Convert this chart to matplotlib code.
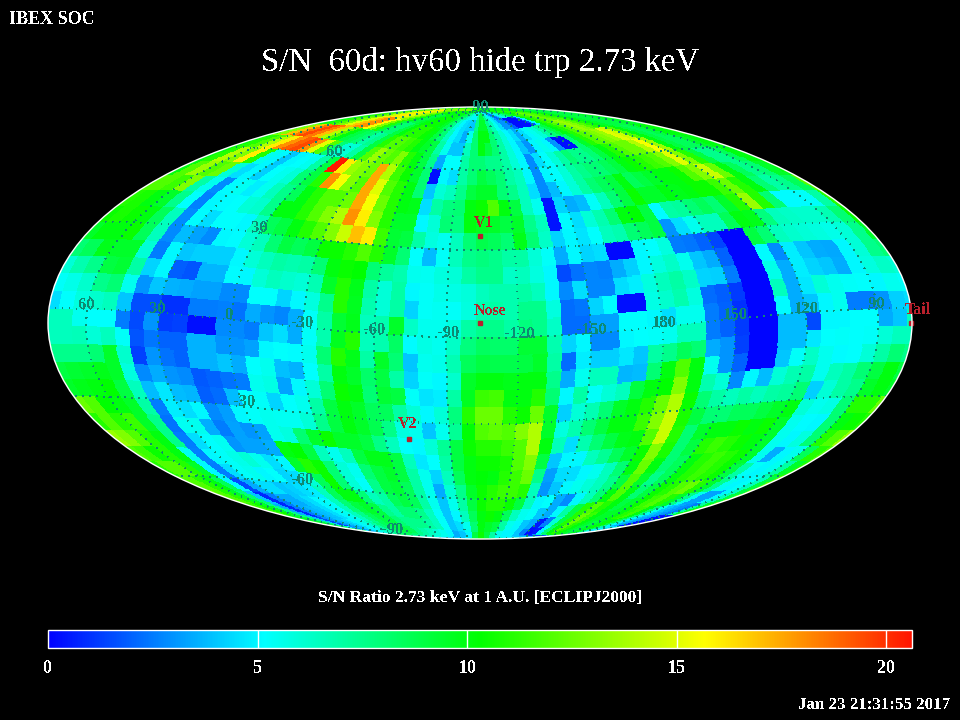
import numpy as np
import matplotlib
matplotlib.use('Agg')
import matplotlib.pyplot as plt
from matplotlib.colors import LinearSegmentedColormap

plt.rcParams['font.family'] = ['Liberation Serif', 'DejaVu Serif']
plt.rcParams['text.antialiased'] = False

# S/N per 6x6 deg cell, rows run north to south, columns run left to right on the map
lat_p84 = [10,10,10.5,11,11.5,12,13,13,13,12.5,12,11,10.5,10,10,10,10,10,10,10,9.5,9,8.5,8,7,6,5.5,5,5,7,9,9,7.5,6,5,4.5,3,2,3,4.5,5.5,6,7,8,9,9.5,10,10.5,11,11,11,10.5,10.5,10,10,10,10,10,10,10]
lat_p78 = [9.5,10,11,12,13,14.5,16,16,15,14,13,11.5,10,9,9,9.5,10,10.5,10.5,10.5,10,9.5,8.5,7.5,6,5,4.5,4.2,4,7.5,9.5,9.5,7.5,6.5,5.5,4.5,3,3,2,.3,.3,.3,.3,1.5,5,10,11,11.5,12,12.5,12,11.5,11,10,9.5,9,9,9,9,9]
lat_p72 = [9,10,11,12,13,15,17,18,18,15.5,13,11,9,8,8,9,10,11,11,11,10.5,10,9,8,6.5,5,4.5,3.5,5.5,8,10,10,8,7,6,5,4.5,3.5,4.5,5,5.5,6,7,8,9,10,11,12,13,13.5,13,12,11,10,9.5,9,9,9,9.5,9.5]
lat_p66 = [11,13,17,18.5,19.5,18.5,17,14,12,10,9,8.5,8,7,7.5,9,11,12,12,11.5,11,10,9.5,9,7,5.5,4,4,6.5,8,10,9,8,7,6,5,4,3,5,5.5,5,3,.3,.3,8,9.5,11,12,12.5,13,13.5,15,14.5,12,10,9,8.5,9,10,10]
lat_p60 = [10,11,12,14,16,18,19,19.5,18,15,12,8,6,6,7,9,12,13.5,12.5,12,13,11,10,9,7.5,3.5,5.2,5.2,7,8,8,7.5,7.5,7,6,5,2.8,4.5,5.2,6,7,8,7.5,7.5,8,9,10,11,12,12.5,12.5,14,15.5,13.5,10,9,8.5,8.5,9.5,10]
lat_p54 = [10,11,14,13,16,11,5.5,5,4,5,5.2,5.5,7,9,20.5,16,13.5,13,12.5,17.5,14,11.5,10.5,9.5,8,.3,5,4.5,7,8,9,8.5,8,7,6.5,5,2.8,5,5.2,6,7,7.5,8,8,8.5,9,10,10.5,11,11.5,12,13,15,13,11,9,7.5,7.5,8.5,10]
lat_p48 = [10,12,13.5,12,12.5,6,4.5,5,4.2,5.2,5.5,6,8,9,11,18,15.5,13,12,17.5,15,12,11,10,8,4,6,6.5,7.5,9,9.5,9.5,8,7.5,6.5,4.5,2.8,3.8,5,6,7,8,8.5,9,10,8.5,9,9.5,10,10,10.5,12,13,14.5,12.5,10,8.5,7.5,8,9.5]
lat_p42 = [12,12,11.5,13,7,5.5,2.8,5.1,5.4,4.8,5.5,6.5,7.5,8.5,10,11,12,12,12.5,17.5,15.5,12.5,11,10,9.8,4.5,7,7.8,8,10,10.5,12,10,9,6.5,5.5,.4,4.3,3.5,3.8,5.3,6.5,8,9,10.5,9.5,9.5,10,9.8,10,10.5,10.5,11.5,12.5,11,10,8,7,7.5,8.5]
lat_p36 = [11,10.8,10,9.5,7.5,5.2,2.6,5,5.1,5.2,6,6.2,7.5,10,10,11,12,13,14,18,16,13,11,9.5,9.5,5,6,8,7.8,10,9.7,9.5,9,9.5,7.5,6.5,.4,5.1,4.5,6,6.8,8,10,10.3,9,5.1,7,7.2,8,8.5,8,9.5,11,13.5,11,8,5.1,5.1,5.3,7]
lat_p30 = [10.5,10.8,10.5,10,8.5,6.5,2.8,5.1,4.5,5.2,5.2,5,6.5,8.5,9,10,11,12,13,14.5,17,16,11.5,9.3,9,7,5.8,5.5,6.5,8,8.8,8.5,8,9.8,8,6.3,4.3,5,4.6,5.2,6.5,6.8,8,8.5,9,3,4.5,5.5,6.5,6.5,8.5,10,9.8,7.8,6.5,6.3,6.2,6.2,6.7,8]
lat_p24 = [9.5,10,10,10.5,8.5,6.5,2.8,3.8,3.3,2.8,5,5.1,6,6.5,8,9,8.5,9,10.5,10.5,11,12,11,9.5,8,5.2,3.8,5.3,6.5,7.5,7.8,7.5,7,7,6,5.3,3.5,5,4.3,4.5,.2,.2,5,5.2,5.8,2.5,2.4,2,1.4,.1,.1,9,8,6.5,6.2,6,5.8,5.6,6,7.5]
lat_p18 = [8,8.5,9.8,9.5,9.5,6,2.5,5,4,4.2,4.2,4.2,5,6,6.5,7,6.8,7,8,10,10.5,10.3,8,7.2,6.8,5.5,5.4,5.8,6,7,7.5,7.5,6.3,6.5,5.8,5,1.5,2.3,2.7,2.6,3.5,4.2,5,5.8,6.3,5.5,4,3.5,2,.1,.1,5.1,2.8,4.8,4,3.5,3.4,5,6,7.5]
lat_p12 = [6,6.8,7.5,9,9.3,7,4.3,5,1.9,1.7,3.7,3.7,5.1,5,6,6.5,6.2,6,6.7,9.5,11,9.8,7,6,7,5,5.3,5.6,5.7,5.9,6.5,6.8,6.8,7,6.5,5,2.8,4.5,2.7,2.7,4.5,4.8,5.8,6.5,7,6.3,4.3,4.2,2.5,.1,.1,5.6,3.5,4.8,4.3,4,3.5,5,5.8,6.3]
lat_p06 = [5.3,5.6,6.2,7.5,8,5.5,3,4,3.6,3.5,3.3,3.3,2.8,2.8,5.2,5.2,4.3,5,5.8,7.5,11,9.7,6.8,6,7,4.3,5.3,5.4,5.3,5.8,6.8,7,6.8,7.5,7.5,5.8,2.2,2.4,4.3,5.1,.3,.3,5.7,6.2,6.8,5.8,2.2,1.9,1.2,.1,.1,6.5,3.5,4.7,6,5.5,5.3,5.2,5,5.5]
lat_p00 = [4.5,5.2,5.8,6.2,6.5,4,1.6,1.6,1,1,2.5,2.5,2.6,2.3,3.5,3,2.7,3.5,5.3,7,9.3,9.8,6.5,6.8,9.5,6.3,5.5,5.5,5.8,7,7.5,7.5,7,7.8,7.5,6.3,2.2,2.2,3.3,3.3,5.2,5.2,5,4.5,5.5,5.5,2.5,2,1,.1,.1,5.1,3.5,4,5,5.5,2.5,2.5,3,4.2]
lat_m06 = [6.5,6.5,5.5,5.2,5.2,2.5,1.5,3,1.2,1.3,.3,.3,2.8,2.8,2.5,4,4.5,3.5,5.3,6.8,9.7,11,6.5,6.8,8.3,5.1,5.7,5.5,6.3,7.8,8.4,8.2,8.2,9.3,9.3,6.8,4.3,5,2.8,2.8,5,5.2,5.3,5.5,6.5,6.5,2.5,2,1.2,.1,.1,3.8,3.8,1.5,5,5,5.2,5.2,3.5,4]
lat_m12 = [6.5,6.5,6.6,6,6.5,5.3,1.7,2.4,2,2,3.6,3.6,3,3,3.3,5,5.2,5.1,5.5,8,11,9.8,7,9.5,8,4,5.5,5.6,6.7,8.5,9,8.8,8.8,9,9.5,7,2.2,4.8,4.2,4.2,4.7,4,7,7.5,8.5,8,3.5,3,1.3,.1,.1,3.8,3.8,4.7,5.2,5.3,5.2,5.3,6,6.5]
lat_m18 = [7.5,7.5,7.5,8,9.5,6.2,1.3,3,2.3,2,3.6,3.6,4,3.5,5.2,5.5,3.9,3.6,5.2,7,10,9.5,8.2,9,7,4.3,5.3,5,6.2,9.5,10,10,9.8,10,10,7.5,3.5,5.5,6.5,6.5,3.7,3.8,8,10,12,10,5.5,3,2,.1,.1,4,5.3,6.3,5.5,5.1,5.2,6,7,8]
lat_m24 = [9,9.3,9.5,9.8,9.5,5.8,2.8,3.5,3,2.8,1.8,2,2.3,2.5,5.5,5.7,3.3,5,6,8,10.5,10,8,9.3,9,5.3,4.6,4.8,7,9.7,11.5,11.7,10,10,11,8,5,7,5.3,6,6.5,9,10,10.3,13,10,6.8,6,2.8,5,3.8,6,6.7,7,5.5,6.5,7,8,9,10]
lat_m30 = [9.5,9.8,10,10.3,9,6.5,3.8,4.7,3.8,3.7,1.9,2.2,3.8,5.2,5.3,4.3,5.2,5.5,7,9,10,9.5,8.5,8.5,7,6,5,6,7.8,11,12.5,12.5,11,10.5,12.5,9.5,4.2,6,6.7,8,9.5,10,11,12.5,14,10.5,8,7,6.5,7,6.5,7,7.2,8,4.2,6,7,7.5,9.5,10]
lat_m36 = [12.5,12,10.3,10,9.5,7,2.5,4.8,4.5,5,2.8,3.2,5,5.3,5.5,5.4,5.4,6,7.5,9,10,9.5,8.7,7.6,5.8,5.5,4,5.5,7.3,10.2,12,12.3,12,13,14,9.5,5.8,6.8,8,9,10,10,11.5,13,14.5,10.8,9,8,8,8.5,8.5,9,9.5,10,6,5.5,5.7,8,11,11]
lat_m42 = [11,12,11,11.5,9.5,7.5,2.3,5.4,5.5,3.5,2.5,3.3,3,3.3,5.5,5.8,8,9.5,10.5,9.5,9.5,9,7.6,6.5,5.2,5,6,7.3,9,10.5,11,11,11.5,12,14,10,6.5,4.5,6.8,8,9,9.8,10,12,14.5,11,8,9.5,10,10,10.5,10,10.5,9.5,5.5,5.1,5,8,10,10.5]
lat_m48 = [13.5,13,12,11,10,7.5,2.5,4.5,5.2,5.4,3,3.3,3.3,3.5,10,10.3,9,6.5,5.5,6.5,9,9.8,9.8,9,6.5,4.7,5.2,7,9,10,10.5,10.5,10.8,12,13,9,4,5,5,6.5,7.3,8.5,9.5,10.5,13,10.8,8,9,11,11.5,11,10.5,10,9.5,5.5,5,5.8,8,11,12]
lat_m54 = [12,11.5,10.5,11,10,5.5,2.6,5,5.3,5.6,6,5.5,4.5,5,9.5,11,10.5,8,6,5.5,8,9,9.5,9,7,5.5,4.3,6.5,8.5,10,10.2,10,11,11.5,12.5,7.5,3.2,4.5,4.5,5,5.5,6.5,8,10,12.5,10,8,8.5,10,11,11.5,11,10.5,9.5,5.5,3.5,5,5.5,8.5,11]
lat_m60 = [11,12,12,11,9.5,5,2.5,4.5,5.3,5.5,5,5.2,4.3,4.5,6,8.5,10.5,8,6,5.3,7.5,9,9.3,8.5,7,5.5,3.5,6,7.5,9.5,10.5,11,11.5,11.5,11,6.5,3,4,5,5.5,6,6.5,7.5,9,12,9.5,7.5,8.5,10,11,11.5,11,10.5,9,7,5.3,5,5.5,7,9.5]
lat_m66 = [12,12,11,10,8.5,5,1.5,3.5,4.5,4.5,4,4.2,4.5,4.8,6.5,8.5,10,10,8,6.5,7,8.5,9,8.5,7,5.5,4,5.5,7,9,10.5,11,11,10.5,9,6.5,5,5.2,3.5,2.8,5,6.5,8,10,12,10,8,9,10.5,11,12,12.5,11,9.5,7.5,5.5,5,5.3,6.5,9]
lat_m72 = [12.5,12,11,9.5,8,4,.8,2.5,3.5,3.5,4,4.5,5,5.3,6.5,8,9,9.5,9,7.5,7,8,8,7.5,6.5,5.3,4,5,6.5,8.5,10,10.5,10,8.5,6.5,5.5,5.3,4,3.5,5,7,9,11,12,11,10,9,9.5,10.5,11.5,12,11,9.5,7.5,5.5,3.3,3.3,5,6.5,9]
lat_m78 = [12,11.5,10.5,9.5,7.5,3.5,.8,2.5,3.5,3.8,4,4.5,5,5.5,6.5,7.5,8.5,9,9,8,7.5,7.5,7.5,7,6.5,5.3,4,4.5,5.5,8,10,9.5,9,7,5.5,5,4,3.5,.5,2.5,6,9,11,12.5,11.5,10,9.5,9.5,10,11,11.5,10,8,5.5,4,3.5,3,2.5,7,9.5]
lat_m84 = [10,10,9.5,9,7.5,4,1.5,3,3.5,4,4.5,5,5.5,6,7,8,8.5,9,9,8.5,7.5,7,6.5,6,5.5,5,3.5,4,5,9,10.5,9,7,5.5,5,5,4,2.5,.3,.5,5,8,10,12,11,10,9.5,9,9.5,10,10.5,9,7,5,4,3.5,3,.5,.3,.3]
lat_m90 = [9,9,9,8.5,7.5,5,3,3.5,4,4.5,5,5.5,6,6.5,7,7.5,8,8.5,8.5,8,7.5,7,6.5,6,5.5,5,4,4.5,5.5,9,11,9.5,7.5,6,5,4.5,4,3,1,3,6,8,10,11,10.5,10,9.5,9,9,9.5,10,9,8,6.5,5.5,5,4.5,4,5,7]

sn_rows = [lat_p84, lat_p78, lat_p72, lat_p66, lat_p60, lat_p54, lat_p48, lat_p42, lat_p36, lat_p30,
           lat_p24, lat_p18, lat_p12, lat_p06, lat_p00, lat_m06, lat_m12, lat_m18, lat_m24, lat_m30,
           lat_m36, lat_m42, lat_m48, lat_m54, lat_m60, lat_m66, lat_m72, lat_m78, lat_m84, lat_m90]

obj_names = ['V1', 'Nose', 'V2', 'Tail']
obj_lon = [256, 256, 289, 76.5]
obj_lat = [35, 5, -36.5, -5]

bar_ticks = [0, 5, 10, 15, 20]
sn_max = 20.62

# map is centred on lon 256 and the ecliptic grid is tipped 5 deg relative to it
center_lon = 256.0
tip = np.radians(5.0)


def ecl_to_map(lon, lat):
    l = np.radians(center_lon - np.asarray(lon, float))
    b = np.radians(np.asarray(lat, float))
    x1 = np.cos(b) * np.cos(l)
    y1 = np.cos(b) * np.sin(l)
    z1 = np.sin(b)
    x = x1 * np.cos(tip) + z1 * np.sin(tip)
    z = -x1 * np.sin(tip) + z1 * np.cos(tip)
    return np.arctan2(y1, x), np.arcsin(np.clip(z, -1, 1))


def map_to_cell(lam, phi):
    x = np.cos(phi) * np.cos(lam)
    y = np.cos(phi) * np.sin(lam)
    z = np.sin(phi)
    x1 = x * np.cos(tip) - z * np.sin(tip)
    z1 = x * np.sin(tip) + z * np.cos(tip)
    l = np.degrees(np.arctan2(y, x1))
    b = np.degrees(np.arcsin(np.clip(z1, -1, 1)))
    col = np.floor((l + 182.0) / 6.0).astype(int) % 60
    row = np.clip(np.floor((90.0 - b) / 6.0).astype(int), 0, 29)
    return row, col


def px(x, y):
    return x / 960.0, 1 - y / 720.0


sn = np.array(sn_rows, float)

lam_edges = np.linspace(-np.pi, np.pi, 961)
phi_edges = np.linspace(-np.pi / 2, np.pi / 2, 481)
lam_mid = (lam_edges[:-1] + lam_edges[1:]) / 2
phi_mid = (phi_edges[:-1] + phi_edges[1:]) / 2
lam_g, phi_g = np.meshgrid(lam_mid, phi_mid)
row_g, col_g = map_to_cell(lam_g, phi_g)
sky = sn[row_g, col_g]

cmap = LinearSegmentedColormap.from_list('ibex', [(0, '#0000ff'), (.25, '#00ffff'), (.5, '#00ff00'),
                                                  (.76, '#ffff00'), (1, '#ff1400')], N=512)

fig = plt.figure(figsize=(9.6, 7.2), dpi=100, facecolor='black')
ax = fig.add_axes([48 / 960, 1 - 539 / 720, 864 / 960, 432 / 720], projection='mollweide', facecolor='black')
mesh = ax.pcolormesh(lam_edges, phi_edges, sky, cmap=cmap, vmin=0, vmax=sn_max, shading='flat',
                     antialiased=False, rasterized=True)
ax.grid(False)
ax.set_xticklabels([])
ax.set_yticklabels([])
ax.spines['geo'].set_edgecolor('white')
ax.spines['geo'].set_linewidth(1.0)

grid_col = '#0d8a72'
for lon0 in range(0, 360, 30):
    lats = np.arange(-90, 90.5, 1.0)
    lam, phi = ecl_to_map(np.full_like(lats, lon0), lats)
    jump = np.where(np.abs(np.diff(lam)) > 1)[0]
    lam = np.insert(lam, jump + 1, np.nan)
    phi = np.insert(phi, jump + 1, np.nan)
    ax.plot(lam, phi, color=grid_col, lw=0.6, ls=(0, (1, 8)), antialiased=False)
for lat0 in [-60, -30, 0, 30, 60]:
    lons = np.arange(0, 360.5, 1.0)
    lam, phi = ecl_to_map(lons, np.full_like(lons, lat0))
    jump = np.where(np.abs(np.diff(lam)) > 1)[0]
    lam = np.insert(lam, jump + 1, np.nan)
    phi = np.insert(phi, jump + 1, np.nan)
    ax.plot(lam, phi, color=grid_col, lw=0.6, ls=(0, (1, 8)), antialiased=False)

lon_text = ['60', '30', '0', '-30', '-60', '-90', '-120', '-150', '180', '150', '120', '90']
lon_x = [87, 158, 230, 303, 375, 448, 520, 592, 664, 735, 806, 877]
lon_y = [305, 309, 315, 323, 330, 333, 334, 330, 323, 315, 309, 304]
for t, xx, yy in zip(lon_text, lon_x, lon_y):
    fig.text(*px(xx, yy), t, color=grid_col, fontsize=12, fontweight='bold', ha='center', va='center')
lat_text = ['90', '60', '30', '-30', '-60', '-90']
lat_x = [481, 335, 260, 245, 303, 392]
lat_y = [107, 152, 228, 402, 480, 530]
for t, xx, yy in zip(lat_text, lat_x, lat_y):
    fig.text(*px(xx, yy), t, color=grid_col, fontsize=12, fontweight='bold', ha='center', va='center')

mark_col = '#b8202c'
mark_lam, mark_phi = ecl_to_map(obj_lon, obj_lat)
ax.plot(mark_lam, mark_phi, ls='none', marker='s', ms=3.5, color=mark_col, clip_on=False)
name_x = [484, 490, 408, 918]
name_y = [223, 311, 424, 310]
for t, xx, yy in zip(obj_names, name_x, name_y):
    fig.text(*px(xx, yy), t, color=mark_col, fontsize=11.5, fontweight='bold', ha='center', va='center')

white_bold = dict(color='white', fontweight='bold')
fig.text(*px(9, 20), 'IBEX SOC', ha='left', va='center', fontsize=13, **white_bold)
fig.text(*px(480, 63), 'S/N  60d: hv60 hide trp 2.73 keV', color='white', ha='center', va='center', fontsize=23.7)
fig.text(*px(480, 598), 'S/N Ratio 2.73 keV at 1 A.U. [ECLIPJ2000]', ha='center', va='center', fontsize=12.6, **white_bold)
fig.text(*px(950, 705), 'Jan 23 21:31:55 2017', ha='right', va='center', fontsize=12.2, **white_bold)

cax = fig.add_axes([48 / 960, 1 - 647.5 / 720, 864 / 960, 18 / 720])
cb = fig.colorbar(mesh, cax=cax, orientation='horizontal', ticks=bar_ticks)
cb.outline.set_edgecolor('white')
cb.outline.set_linewidth(1.0)
cax.tick_params(length=0, pad=9, labelcolor='white', labelsize=13)
for lab in cax.get_xticklabels():
    lab.set_fontweight('bold')
for t in bar_ticks[1:]:
    cax.axvline(t, color='white', lw=1.0)

fig.savefig('out.png', dpi=100, facecolor='black')
